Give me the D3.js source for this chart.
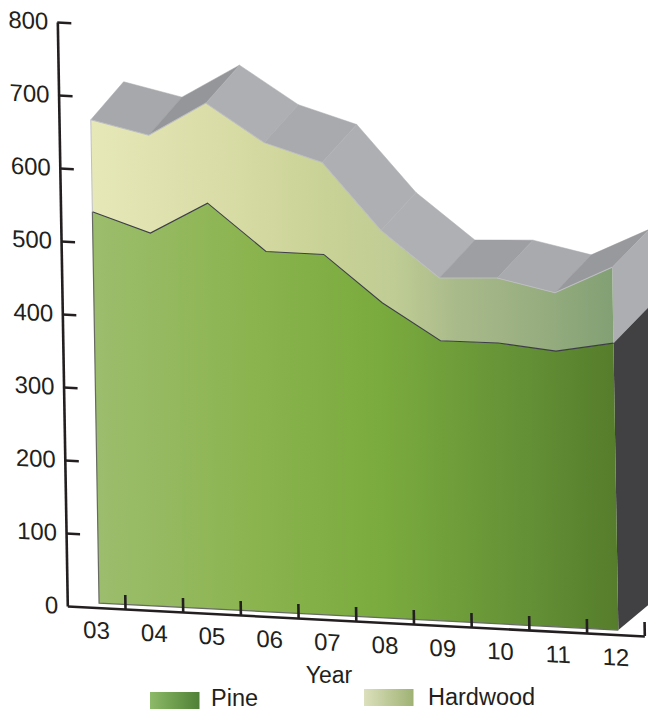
<!DOCTYPE html>
<html>
<head>
<meta charset="utf-8">
<script src="https://cdn.jsdelivr.net/npm/d3@7"></script>
<style>
  html, body { margin: 0; padding: 0; background: #fff; }
  svg { display: block; }
  text { font-family: "Liberation Sans", Arial, sans-serif; fill: #231f20; }
</style>
</head>
<body>
<div id="chart"></div>
<script>
// Harvest volume by year, stacked
const years = ["03", "04", "05", "06", "07", "08", "09", "10", "11", "12"];
const pine = [536, 511, 556, 494, 494, 432, 384, 385, 378, 393];
const hardwood = [126, 134, 137, 149, 126, 99, 86, 89, 80, 104];
const yTicks = [0, 100, 200, 300, 400, 500, 600, 700, 800];
const seriesNames = ["Pine", "Hardwood"];
const roofShades = ["#a7a8ab", "#95969a", "#aeafb2", "#a9aaad", "#aeafb2",
                    "#afb0b3", "#9e9fa3", "#a9aaae", "#98999c"];
const pineStops = [[0, "#9cbd6d"], [0.3, "#8bb44f"], [0.55, "#7aab3e"], [0.85, "#628e35"], [1, "#567d2b"]];
const hardwoodStops = [[0, "#e6e8b8"], [0.25, "#d9dca6"], [0.45, "#c9d296"], [0.58, "#bfcc94"],
                       [0.7, "#a9ba8a"], [0.85, "#98ae80"], [1, "#82a074"]];

const width = 648, height = 711;
const plotW = 577, plotH = 584;

const svg = d3.select("#chart").append("svg").attr("width", width).attr("height", height);
const defs = svg.append("defs");

function gradient(id, stops, x1, x2, units) {
  const g = defs.append("linearGradient").attr("id", id)
    .attr("gradientUnits", units).attr("x1", x1).attr("x2", x2).attr("y1", 0).attr("y2", 0);
  stops.forEach(([o, c]) => g.append("stop").attr("offset", o).attr("stop-color", c));
}
gradient("pineFill", pineStops, 32, 551, "userSpaceOnUse");
gradient("hardwoodFill", hardwoodStops, 32, 551, "userSpaceOnUse");
gradient("pineKey", [[0, "#8cba68"], [1, "#4f8035"]], 0, 1, "objectBoundingBox");
gradient("hardwoodKey", [[0, "#dcE0bc"], [1, "#9fb274"]], 0, 1, "objectBoundingBox");

// The whole plot sits on a sheared plane to give the oblique 3-D view
const plane = svg.append("g").attr("transform", `matrix(1,0.052,0.0171,1,67.3,606)`);

const x = d3.scaleBand().domain(years).range([0, plotW]);
const edges = d3.scaleLinear().domain([0, years.length]).range([0, plotW]);
const y = d3.scaleLinear().domain([0, 800]).range([0, -plotH]);

const rows = years.map((yr, i) => ({ yr, Pine: pine[i], Hardwood: hardwood[i] }));
const stacked = d3.stack().keys(seriesNames)(rows);

// The front wall stands slightly in from the axes
const wallShift = 3, wallLift = -4.6;
const px = yr => x(yr) + x.bandwidth() / 2 + wallShift;
const py = v => y(v) + wallLift;

// Depth of the extrusion, growing slightly toward the right
const depthX = d3.scaleLinear().domain([0, years.length - 1]).range([33.5, 37.5]);
const depthY = -39.8;

const wall = plane.append("g");
const totals = stacked[1].map(d => d[1]);
const poly = pts => "M" + pts.map(p => p.join(",")).join("L") + "Z";

// Sloped roof behind the top of the stack, one facet per year step
wall.selectAll("path.roof").data(d3.range(years.length - 1)).join("path")
  .attr("class", "roof")
  .attr("fill", i => roofShades[i])
  .attr("stroke", i => roofShades[i])
  .attr("stroke-width", 0.5)
  .attr("d", i => {
    const a = [px(years[i]), py(totals[i])];
    const b = [px(years[i + 1]), py(totals[i + 1])];
    return poly([a, b, [b[0] + depthX(i + 1), b[1] + depthY], [a[0] + depthX(i), a[1] + depthY]]);
  });

// Right-hand end of the extrusion
const last = years.length - 1, lastYear = years[last];
const xe = px(lastYear), de = depthX(last);
wall.append("path").attr("fill", "#adaeb2")
  .attr("d", poly([[xe, py(totals[last])], [xe + de, py(totals[last]) + depthY],
                   [xe + de, py(pine[last]) + depthY], [xe, py(pine[last])]]));
wall.append("path").attr("fill", "#414042")
  .attr("d", poly([[xe, py(pine[last])], [xe + de, py(pine[last]) + depthY],
                   [xe + de, py(0) - 33], [xe, py(0)]]));

// Stacked areas on the front wall
const area = d3.area().x(d => px(d.data.yr)).y0(d => py(d[0])).y1(d => py(d[1]));
plane.append("path").datum(stacked[1]).attr("fill", "url(#hardwoodFill)").attr("d", area);
plane.append("path").datum(stacked[0]).attr("fill", "url(#pineFill)").attr("d", area);

const topLine = i => d3.line().x(d => px(d.data.yr)).y(d => py(d[1]))(stacked[i]);
plane.append("path").attr("d", topLine(1)).attr("fill", "none").attr("stroke", "#bcbdc1").attr("stroke-width", 1);
plane.append("path").attr("d", topLine(0)).attr("fill", "none").attr("stroke", "#3d3d48").attr("stroke-width", 1.1);

// Thin outline on the left and bottom edges of the wall
const x0 = px(years[0]);
plane.append("path").attr("fill", "none").attr("stroke", "#bfc0c4").attr("stroke-width", 1)
  .attr("d", `M${x0},${py(totals[0])}L${x0},${py(pine[0])}`);
plane.append("path").attr("fill", "none").attr("stroke", "#666a62").attr("stroke-width", 1.2)
  .attr("d", `M${x0},${py(pine[0])}L${x0},${py(0)}L${xe},${py(0)}`);

// Axes
function styleAxis(g) {
  g.selectAll("path, line").attr("stroke", "#231f20").attr("stroke-width", 2.6);
  g.selectAll("text").attr("fill", "#231f20").attr("font-size", 24)
    .attr("font-family", '"Liberation Sans", Arial, sans-serif');
}

const yAxis = plane.append("g")
  .call(d3.axisLeft(y).tickValues(yTicks).tickSizeInner(-14).tickSizeOuter(0).tickPadding(9))
  .call(styleAxis);
yAxis.selectAll(".tick line").filter(d => d === 0).remove();

const xEdges = plane.append("g")
  .call(d3.axisBottom(edges).tickValues(d3.range(1, years.length + 1)).tickFormat("")
    .tickSizeInner(-14).tickSizeOuter(0))
  .call(styleAxis);

const xLabels = plane.append("g")
  .call(d3.axisBottom(x).tickSize(0).tickPadding(14))
  .call(styleAxis);
xLabels.select(".domain").remove();

// Axis title and key
svg.append("text").attr("x", 329).attr("y", 683).attr("text-anchor", "middle")
  .attr("font-size", 23).text("Year");

const keyRows = [
  { name: seriesNames[0], fill: "url(#pineKey)", sx: 150, sy: 692, tx: 211, ty: 706 },
  { name: seriesNames[1], fill: "url(#hardwoodKey)", sx: 364, sy: 689, tx: 428, ty: 705 }
];
const key = svg.append("g").selectAll("g").data(keyRows).join("g");
key.append("rect").attr("x", d => d.sx).attr("y", d => d.sy)
  .attr("width", 49.5).attr("height", 17).attr("fill", d => d.fill);
key.append("text").attr("x", d => d.tx).attr("y", d => d.ty)
  .attr("font-size", 23.5).text(d => d.name);
</script>
</body>
</html>
